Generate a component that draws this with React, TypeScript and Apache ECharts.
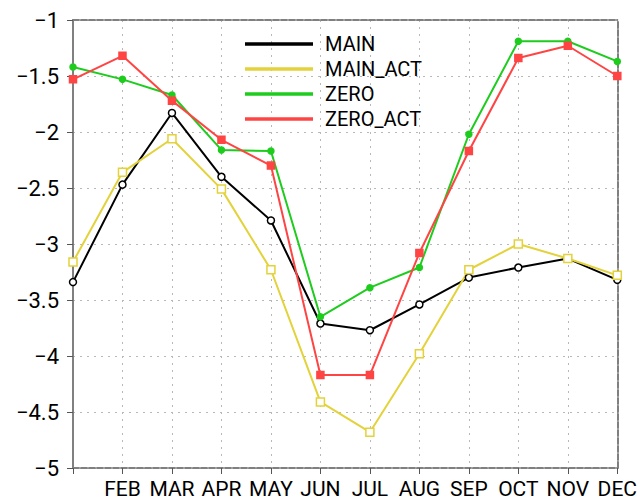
import React, { useEffect, useRef } from "react";
import * as echarts from "echarts";

const months = ["JAN", "FEB", "MAR", "APR", "MAY", "JUN", "JUL", "AUG", "SEP", "OCT", "NOV", "DEC"];
const mainVals = [-3.34, -2.47, -1.83, -2.40, -2.79, -3.71, -3.77, -3.54, -3.30, -3.21, -3.13, -3.32];
const mainActVals = [-3.16, -2.36, -2.06, -2.51, -3.23, -4.41, -4.68, -3.98, -3.23, -3.00, -3.13, -3.28];
const zeroVals = [-1.42, -1.53, -1.67, -2.16, -2.17, -3.65, -3.39, -3.21, -2.02, -1.19, -1.19, -1.37];
const zeroActVals = [-1.53, -1.32, -1.72, -2.07, -2.30, -4.17, -4.17, -3.08, -2.17, -1.34, -1.23, -1.50];

const FONT = "Roboto, 'Liberation Sans', Arial, sans-serif";

export default function App() {
  const ref = useRef<HTMLDivElement>(null);
  useEffect(() => {
    if (!ref.current) return;
    const chart = echarts.init(ref.current, null, { renderer: "svg" });
    const dotted = { show: true, lineStyle: { color: "#b8b8b8", type: [2, 5], width: 1 } };
    const seriesList = [
      { name: "MAIN", data: mainVals, color: "#000000", symbol: "circle", size: 7, fill: "#ffffff" },
      { name: "MAIN_ACT", data: mainActVals, color: "#e3d23a", symbol: "rect", size: 8, fill: "#ffffff" },
      { name: "ZERO", data: zeroVals, color: "#1ecc1e", symbol: "circle", size: 6, fill: "#1ecc1e" },
      { name: "ZERO_ACT", data: zeroActVals, color: "#ff4444", symbol: "rect", size: 7, fill: "#ff4444" },
    ];
    chart.setOption({
      animation: false,
      backgroundColor: "#ffffff",
      grid: { left: 73, top: 20, right: 22, bottom: 30 },
      legend: {
        orient: "vertical",
        left: 240,
        top: 29,
        icon: "rect",
        itemWidth: 66,
        itemHeight: 1.5,
        itemGap: 5,
        textStyle: { fontFamily: FONT, fontSize: 20, color: "#000", padding: [0, 0, 0, 8], lineHeight: 20 },
        data: seriesList.map((s) => ({ name: s.name, itemStyle: { color: s.color } })),
      },
      xAxis: [
        {
          type: "category",
          data: months,
          boundaryGap: false,
          axisLine: { lineStyle: { color: "#808080", width: 2, type: [6, 2] } },
          axisTick: { show: true, length: 6, lineStyle: { color: "#555", width: 1 }, alignWithLabel: true },
          axisLabel: {
            fontFamily: FONT,
            fontSize: 21,
            color: "#000",
            margin: 10,
            interval: 0,
            formatter: (v: string) => (v === "JAN" ? "" : v),
          },
          splitLine: dotted,
        },
        {
          type: "category",
          data: months,
          position: "top",
          boundaryGap: false,
          axisLine: { show: true, lineStyle: { color: "#808080", width: 2, type: [6, 2] } },
          axisTick: { show: false },
          axisLabel: { show: false },
          splitLine: { show: false },
        },
      ],
      yAxis: [
        {
          type: "value",
          min: -5,
          max: -1,
          interval: 0.5,
          axisLine: { show: true, lineStyle: { color: "#808080", width: 2 } },
          axisTick: { show: true, length: 6, lineStyle: { color: "#555", width: 1 } },
          axisLabel: {
            fontFamily: FONT,
            fontSize: 22,
            color: "#000",
            margin: 14,
            formatter: (v: number) => (v < 0 ? "\u2212" + String(Math.abs(v)) : String(v)),
          },
          splitLine: dotted,
        },
        {
          type: "value",
          min: -5,
          max: -1,
          interval: 0.5,
          position: "right",
          axisLine: { show: true, lineStyle: { color: "#808080", width: 2, type: [6, 2] } },
          axisTick: { show: false },
          axisLabel: { show: false },
          splitLine: { show: false },
        },
      ],
      series: seriesList.map((s) => ({
        name: s.name,
        type: "line",
        data: s.data,
        symbol: s.symbol,
        symbolSize: s.size,
        showAllSymbol: true,
        lineStyle: { color: s.color, width: 2 },
        itemStyle: { color: s.fill, borderColor: s.color, borderWidth: 1.5 },
        color: s.color,
        z: 3,
      })),
    });
    return () => chart.dispose();
  }, []);
  return <div ref={ref} style={{ position: "fixed", left: 0, top: 0, width: 640, height: 499 }} />;
}
